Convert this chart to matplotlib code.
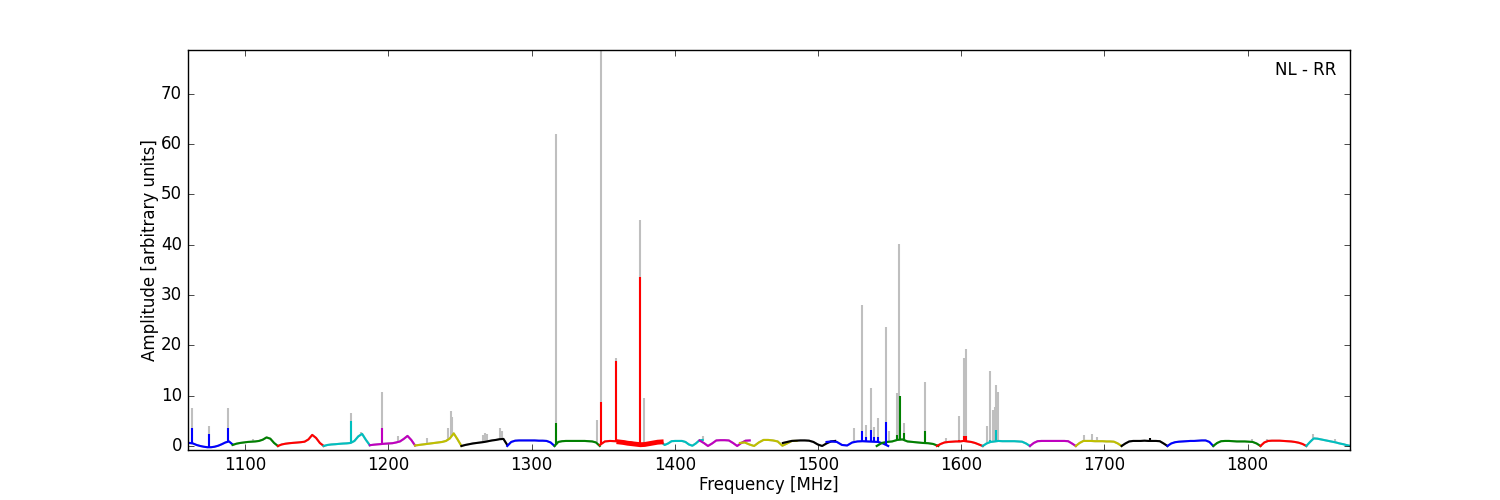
import numpy as np
import matplotlib
matplotlib.use('Agg')
import matplotlib.pyplot as plt

plt.style.use('classic')

# subband edges [MHz]
sb_start = [1061.0, 1091.2, 1122.8, 1154.8, 1187.0, 1218.6, 1251.0, 1283.0, 1316.0, 1347.6,
            1390.5, 1417.3, 1445.5, 1475.5, 1506.0, 1541.0, 1583.0, 1615.0, 1648.0, 1680.0,
            1712.0, 1744.0, 1776.0, 1809.0, 1841.0]
sb_end = [1091.2, 1122.8, 1154.8, 1187.0, 1218.6, 1251.0, 1283.0, 1316.0, 1347.6, 1390.5,
          1419.5, 1452.3, 1485.0, 1512.0, 1549.0, 1584.0, 1615.0, 1648.0, 1680.0, 1712.0,
          1744.0, 1776.0, 1809.0, 1841.0, 1872.0]
sb_color = list('bgrcmykbgrcmykbgrcmykbgrc')

# calibrated amplitude per subband (evenly spaced channels)
sb01 = [0.6, 0.5, 0.2, 0.0, -0.15, -0.25, -0.25, -0.15, 0.05, 0.35, 0.7, 0.9, 0.3]
sb02 = [0.2, 0.45, 0.6, 0.7, 0.8, 0.85, 0.9, 1.0, 1.25, 1.7, 1.45, 0.6, 0.0]
sb03 = [0.0, 0.3, 0.45, 0.55, 0.62, 0.68, 0.75, 0.85, 1.3, 2.2, 1.6, 0.6, 0.0]
sb04 = [0.0, 0.2, 0.3, 0.35, 0.42, 0.48, 0.52, 0.6, 1.0, 1.9, 2.4, 1.2, 0.15]
sb05 = [0.15, 0.25, 0.32, 0.38, 0.45, 0.5, 0.55, 0.7, 0.9, 1.4, 2.0, 1.2, 0.1]
sb06 = [0.1, 0.2, 0.3, 0.4, 0.5, 0.6, 0.7, 0.8, 1.0, 1.5, 2.5, 1.3, 0.0]
sb07 = [0.0, 0.2, 0.35, 0.5, 0.6, 0.7, 0.8, 0.95, 1.1, 1.2, 1.35, 1.4, 0.2]
sb08 = [0.0, 0.8, 1.05, 1.1, 1.1, 1.1, 1.1, 1.1, 1.05, 1.05, 1.0, 0.7, 0.0]
sb09 = [0.0, 0.8, 0.95, 1.0, 1.0, 1.0, 1.0, 1.0, 1.0, 0.95, 0.9, 0.7, 0.0]
sb10 = [0.2, 0.9, 1.0, 0.95, 0.9, 0.8, 0.7, 0.5, 0.35, 0.3, 0.45, 0.7, 0.8]
sb11 = [0.8, 0.2, 0.5, 0.95, 1.0, 1.0, 1.0, 0.8, 0.3, 0.05, 0.5, 1.1, 1.2]
sb12 = [1.1, 0.6, 0.0, 0.5, 1.1, 1.15, 1.15, 1.1, 0.6, 0.0, 0.6, 1.05, 1.1]
sb13 = [0.6, 0.7, 0.3, 0.0, 0.7, 1.2, 1.2, 1.1, 0.9, 0.05, 0.5, 1.0, 1.0]
sb14 = [0.6, 0.8, 1.0, 1.05, 1.1, 1.1, 1.05, 0.8, 0.3, 0.0, 0.5, 0.9, 1.0]
sb15 = [0.8, 0.9, 0.8, 0.2, 0.1, 0.7, 0.9, 0.95, 0.9, 0.85, 0.8, 0.5, 0.0]
sb16 = [0.0, 0.6, 0.8, 0.9, 1.2, 1.3, 0.9, 0.8, 0.7, 0.6, 0.55, 0.4, 0.0]
sb17 = [0.0, 0.4, 0.7, 0.8, 0.85, 0.9, 0.9, 1.0, 0.9, 0.8, 0.6, 0.3, 0.0]
sb18 = [0.0, 0.5, 0.8, 0.9, 1.0, 0.95, 0.95, 0.95, 0.95, 0.9, 0.85, 0.5, 0.0]
sb19 = [0.0, 0.6, 0.95, 1.0, 1.0, 1.0, 1.0, 1.0, 1.0, 1.0, 0.95, 0.5, 0.0]
sb20 = [0.0, 0.6, 1.0, 1.0, 1.0, 0.95, 0.95, 0.95, 0.9, 0.9, 0.85, 0.5, 0.0]
sb21 = [0.0, 0.5, 0.9, 1.0, 1.0, 1.0, 1.05, 1.0, 1.0, 1.0, 0.95, 0.5, 0.0]
sb22 = [0.0, 0.5, 0.75, 0.85, 0.9, 0.95, 1.0, 1.0, 1.05, 1.1, 1.1, 0.8, 0.0]
sb23 = [0.0, 0.6, 0.95, 1.0, 1.0, 0.95, 0.9, 0.9, 0.9, 0.85, 0.8, 0.5, 0.0]
sb24 = [0.0, 0.7, 1.0, 1.05, 1.05, 1.05, 1.0, 0.95, 0.9, 0.8, 0.65, 0.4, 0.0]
sb25 = [0.0, 0.8, 1.5, 1.45, 1.3, 1.15, 1.0, 0.85, 0.7, 0.5, 0.35, 0.15, 0.0]
sb_amp = [sb01, sb02, sb03, sb04, sb05, sb06, sb07, sb08, sb09, sb10, sb11, sb12, sb13,
          sb14, sb15, sb16, sb17, sb18, sb19, sb20, sb21, sb22, sb23, sb24, sb25]

# noisy stretch of subband 10
red_noise_f = [1361.0, 1364.0, 1367.0, 1370.0, 1373.0, 1376.0, 1379.0, 1382.0, 1385.0, 1388.0, 1390.5]
red_noise_a = [0.8, 0.7, 0.55, 0.45, 0.35, 0.25, 0.3, 0.45, 0.6, 0.75, 0.8]

# raw data peaks (RFI), grey
raw_spike_f = [1062.7, 1075.0, 1087.8, 1105.3, 1174.0, 1180.8, 1195.4, 1206.6, 1226.9, 1241.6,
               1243.4, 1244.6, 1265.8, 1267.5, 1269.0, 1277.7, 1279.0, 1316.8, 1345.5, 1348.2,
               1359.0, 1375.6, 1378.2, 1419.5, 1525.2, 1530.8, 1533.8, 1537.0, 1538.8, 1541.6,
               1547.5, 1549.8, 1555.2, 1556.9, 1559.9, 1575.0, 1589.7, 1598.2, 1601.9, 1603.5,
               1618.1, 1620.0, 1622.3, 1623.5, 1624.5, 1625.7, 1685.7, 1691.0, 1694.5, 1803.0,
               1813.4, 1845.5, 1861.0]
raw_spike_a = [7.5, 4.0, 7.5, 1.3, 6.5, 2.8, 10.8, 1.9, 1.5, 3.5,
               7.0, 5.8, 2.2, 2.5, 2.3, 3.6, 3.0, 62.0, 5.2, 78.7,
               17.5, 44.9, 9.5, 1.9, 3.5, 28.0, 4.2, 11.6, 3.8, 5.5,
               23.7, 3.0, 10.5, 40.2, 4.5, 12.7, 1.5, 6.0, 17.4, 19.2,
               4.0, 14.9, 7.2, 7.8, 12.1, 10.8, 2.2, 2.3, 1.8, 1.3,
               1.4, 2.3, 1.3]

# peaks left in the processed data
cal_spike_f = [1062.7, 1075.0, 1087.8, 1174.0, 1195.4, 1316.8, 1348.2, 1359.0, 1375.6, 1530.8,
               1533.8, 1537.0, 1538.8, 1541.6, 1547.5, 1555.2, 1557.2, 1559.9, 1575.0, 1598.2,
               1601.9, 1603.5, 1620.0, 1624.5, 1731.6]
cal_spike_a = [3.6, 2.4, 3.6, 5.0, 3.5, 4.5, 8.8, 16.9, 33.5, 3.0,
               1.8, 3.2, 1.8, 1.7, 4.8, 2.2, 10.0, 2.6, 3.0, 1.2,
               2.0, 1.9, 1.2, 3.2, 1.5]


def find_band(f):
    for i in range(len(sb_start)):
        if sb_start[i] <= f <= sb_end[i]:
            return i
    return 0


fig = plt.figure(figsize=(15, 5), dpi=100)
fig.patch.set_facecolor('white')
ax = fig.add_subplot(111)

chan_f = [np.linspace(sb_start[i], sb_end[i], len(sb_amp[i])) for i in range(len(sb_amp))]

# raw spectrum (grey) underneath
for i in range(len(sb_amp)):
    ax.plot(chan_f[i], sb_amp[i], color='0.75', lw=1.5, zorder=1)
for f, a in zip(raw_spike_f, raw_spike_a):
    i = find_band(f)
    foot = np.interp(f, chan_f[i], sb_amp[i])
    ax.vlines(f, foot, a, color='0.75', lw=1.5, zorder=1)

# processed subbands
for i in range(len(sb_amp)):
    ax.plot(chan_f[i], sb_amp[i], color=sb_color[i], lw=1.5, zorder=2)
ax.plot(red_noise_f, red_noise_a, color='r', lw=3.5, zorder=2)
for f, a in zip(cal_spike_f, cal_spike_a):
    i = find_band(f)
    foot = np.interp(f, chan_f[i], sb_amp[i])
    ax.vlines(f, foot, a, color=sb_color[i], lw=1.5, zorder=2)

ax.set_xlim(1059.7, 1871.5)
ax.set_ylim(-0.8, 78.7)
ax.set_xlabel('Frequency [MHz]', labelpad=1.5)
ax.set_ylabel('Amplitude [arbitrary units]', labelpad=1.5)
ax.text(0.988, 0.95, 'NL - RR', transform=ax.transAxes, ha='right', va='center', fontsize=12)

plt.savefig('out.png', dpi=100, facecolor='white')
